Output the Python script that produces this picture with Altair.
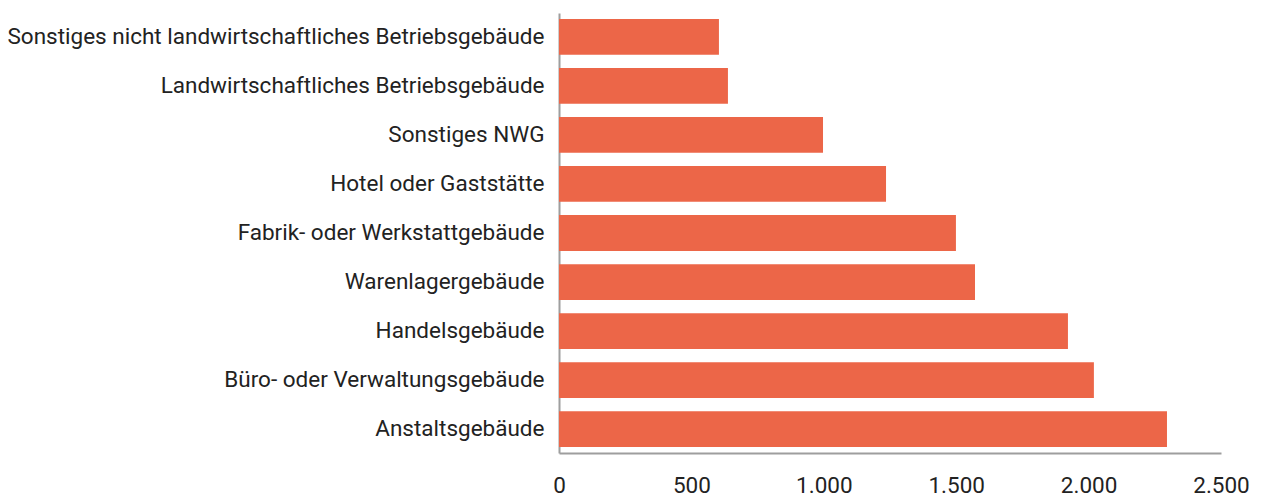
import altair as alt
import pandas as pd

categories = [
    "Sonstiges nicht landwirtschaftliches Betriebsgebäude",
    "Landwirtschaftliches Betriebsgebäude",
    "Sonstiges NWG",
    "Hotel oder Gaststätte",
    "Fabrik- oder Werkstattgebäude",
    "Warenlagergebäude",
    "Handelsgebäude",
    "Büro- oder Verwaltungsgebäude",
    "Anstaltsgebäude",
]
values = [604, 638, 997, 1235, 1499, 1571, 1922, 2020, 2296]
tick_values = [0, 500, 1000, 1500, 2000, 2500]

df = pd.DataFrame({"kategorie": categories, "wert": values})

FONT = "Roboto"
FS = 22.5

chart = (
    alt.Chart(df)
    .mark_bar(color="#EC6648")
    .encode(
        y=alt.Y(
            "kategorie:N",
            sort=categories,
            title=None,
            scale=alt.Scale(paddingInner=0.27, paddingOuter=0.12),
            axis=alt.Axis(
                labelFont=FONT,
                labelFontSize=FS,
                labelColor="#222222",
                labelPadding=15,
                tickSize=0,
                ticks=False,
                domainColor="#9E9E9E",
                domainWidth=2,
                labelLimit=800,
            ),
        ),
        x=alt.X(
            "wert:Q",
            title=None,
            scale=alt.Scale(domain=[0, 2500], nice=False),
            axis=alt.Axis(
                values=tick_values,
                labelExpr="replace(format(datum.value, ','), ',', '.')",
                labelFont=FONT,
                labelFontSize=FS,
                labelColor="#222222",
                labelPadding=21,
                tickSize=0,
                ticks=False,
                grid=False,
                domainColor="#9E9E9E",
                domainWidth=2,
                labelFlush=False,
            ),
        ),
    )
    .properties(
        width=662,
        height=440,
        padding={"left": -2, "top": 5, "right": 5, "bottom": 0},
        background="white",
    )
    .configure_view(stroke=None)
)

chart.save("out.html", embed_options={"renderer": "svg", "actions": False})
